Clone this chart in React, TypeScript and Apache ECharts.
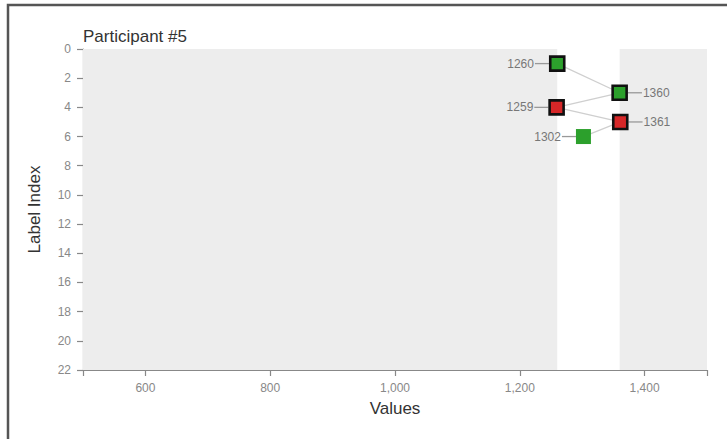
import React, { useEffect, useRef } from "react";
import * as echarts from "echarts";

// ---- data ----
const titleText = "Participant #5";
const xAxisName = "Values";
const yAxisName = "Label Index";
const xMin = 500;
const xMax = 1500;
const xTickValues = [500, 600, 800, 1000, 1200, 1400, 1500];
const xLabelValues = [600, 800, 1000, 1200, 1400];
const yMin = 0;
const yMax = 22;
const yInterval = 2;

// nodes
const nodeValues = [1260, 1360, 1259, 1361, 1302];
const nodeLabelIndex = [1, 3, 4, 5, 6];
const nodeStatus = ["correct", "correct", "wrong", "wrong", "correct"];
const nodeHighlighted = [true, true, true, true, false];

// edges (node index pairs)
const edgeFrom = [0, 2, 2, 4];
const edgeTo = [1, 1, 3, 3];

// white (unshaded) window in the value range
const windowStart = 1260;
const windowEnd = 1360;

const statusColor: Record<string, string> = {
  correct: "#2ca02c",
  wrong: "#d62728",
};

const FONT = "'Liberation Sans', Arial, Helvetica, sans-serif";

export default function App() {
  const ref = useRef<HTMLDivElement>(null);

  useEffect(() => {
    if (!ref.current) return;
    const chart = echarts.init(ref.current, null, { renderer: "svg" });

    const vMin = Math.min(...nodeValues);
    const vMax = Math.max(...nodeValues);
    const mid = (vMin + vMax) / 2;

    const nodeData = nodeValues.map((v, i) => [v, nodeLabelIndex[i]]);
    const edgeData = edgeFrom.map((f, i) => [
      nodeValues[f],
      nodeLabelIndex[f],
      nodeValues[edgeTo[i]],
      nodeLabelIndex[edgeTo[i]],
    ]);

    const fmt = (v: number) => v.toLocaleString("en-US");

    chart.setOption({
      animation: false,
      textStyle: { fontFamily: FONT },
      graphic: [
        {
          type: "rect",
          silent: true,
          z: 100,
          shape: { x: 8, y: 5, width: 900, height: 600 },
          style: { fill: "none", stroke: "#555", lineWidth: 2.5 },
        },
      ],
      title: {
        text: titleText,
        left: 83,
        top: 28,
        padding: 0,
        textStyle: {
          fontSize: 17,
          fontWeight: "normal",
          color: "#333",
          fontFamily: FONT,
        },
      },
      grid: { left: 83, right: 20, top: 49, bottom: 69 },
      xAxis: {
        type: "value",
        min: xMin,
        max: xMax,
        name: xAxisName,
        nameLocation: "middle",
        nameGap: 30,
        nameTextStyle: { fontSize: 17, color: "#333", fontFamily: FONT },
        axisLine: { show: true, onZero: false, lineStyle: { color: "#888", width: 1.2 } },
        axisTick: {
          show: true,
          length: 6,
          customValues: xTickValues,
          lineStyle: { color: "#888", width: 1.2 },
        },
        axisLabel: {
          customValues: xLabelValues,
          formatter: (v: number) => fmt(v),
          color: "#888",
          fontSize: 12,
          margin: 12,
          fontFamily: FONT,
        },
        splitLine: { show: false },
      },
      yAxis: {
        type: "value",
        inverse: true,
        min: yMin,
        max: yMax,
        interval: yInterval,
        name: yAxisName,
        nameLocation: "middle",
        nameGap: 40,
        nameRotate: 90,
        nameTextStyle: { fontSize: 17, color: "#333", fontFamily: FONT },
        axisLine: { show: true, onZero: false, lineStyle: { color: "#888", width: 1.2 } },
        axisTick: { show: true, length: 6, lineStyle: { color: "#888", width: 1.2 } },
        axisLabel: { color: "#888", fontSize: 12, margin: 12, fontFamily: FONT },
        splitLine: { show: false },
      },
      series: [
        {
          type: "custom",
          name: "edges",
          coordinateSystem: "cartesian2d",
          encode: { x: [0, 2], y: [1, 3] },
          data: edgeData,
          z: 2,
          markArea: {
            silent: true,
            itemStyle: { color: "#ededed" },
            data: [
              [{ xAxis: xMin }, { xAxis: windowStart }],
              [{ xAxis: windowEnd }, { xAxis: xMax }],
            ],
          },
          renderItem: (params: any, api: any) => {
            const p1 = api.coord([api.value(0), api.value(1)]);
            const p2 = api.coord([api.value(2), api.value(3)]);
            return {
              type: "line",
              shape: { x1: p1[0], y1: p1[1], x2: p2[0], y2: p2[1] },
              style: { stroke: "#cfcfcf", lineWidth: 1.3 },
            };
          },
        },
        {
          type: "custom",
          name: "nodes",
          coordinateSystem: "cartesian2d",
          encode: { x: 0, y: 1 },
          data: nodeData,
          z: 3,
          renderItem: (params: any, api: any) => {
            const i = params.dataIndex;
            const v = api.value(0);
            const p = api.coord([v, api.value(1)]);
            const hl = nodeHighlighted[i];
            const size = hl ? 14 : 15;
            const lw = hl ? 2.6 : 0;
            const outerHalf = size / 2 + lw / 2;
            const right = v > mid;
            const dir = right ? 1 : -1;
            const lineStart = p[0] + dir * outerHalf;
            const lineEnd = lineStart + dir * 14;
            return {
              type: "group",
              children: [
                {
                  type: "line",
                  shape: { x1: lineStart, y1: p[1], x2: lineEnd, y2: p[1] },
                  style: { stroke: "#999", lineWidth: 1.3 },
                },
                {
                  type: "rect",
                  shape: { x: p[0] - size / 2, y: p[1] - size / 2, width: size, height: size },
                  style: {
                    fill: statusColor[nodeStatus[i]],
                    stroke: hl ? "#111" : null,
                    lineWidth: lw,
                  },
                },
                {
                  type: "text",
                  x: lineEnd + dir * 1,
                  y: p[1],
                  style: {
                    text: String(nodeValues[i]),
                    fill: "#777",
                    fontSize: 12,
                    fontFamily: FONT,
                    align: right ? "left" : "right",
                    verticalAlign: "middle",
                  },
                },
              ],
            };
          },
        },
      ],
    });

    return () => chart.dispose();
  }, []);

  return (
    <div
      style={{
        position: "fixed",
        left: 0,
        top: 0,
        width: 727,
        height: 439,
        background: "#fff",
      }}
    >
      <div ref={ref} style={{ width: 727, height: 439 }} />
    </div>
  );
}
